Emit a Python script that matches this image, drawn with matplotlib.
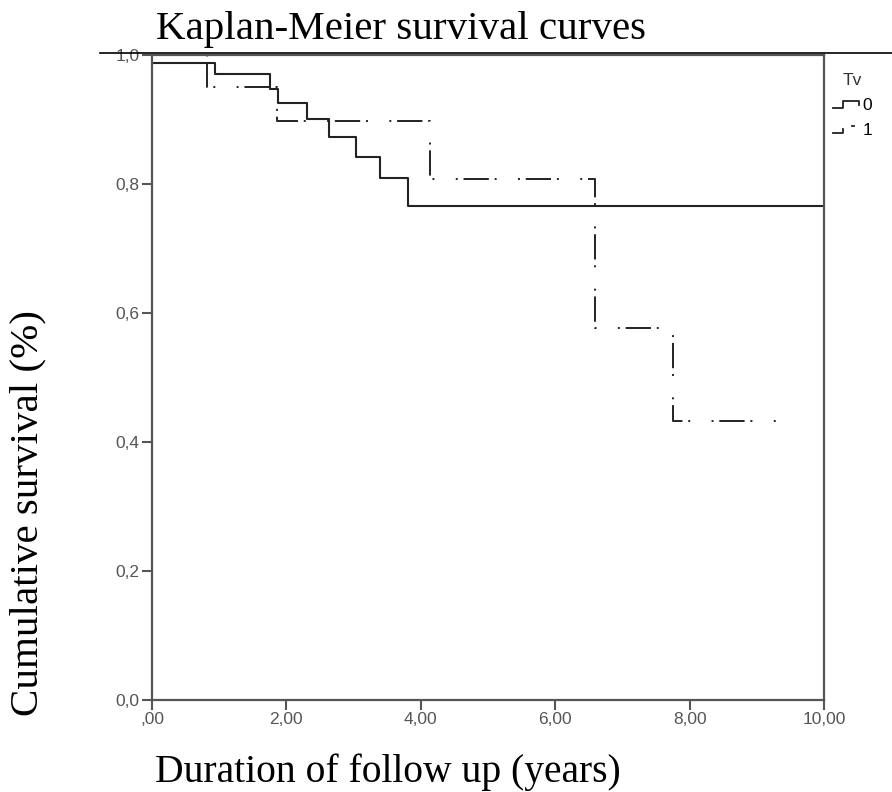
import matplotlib
matplotlib.use('Agg')
import matplotlib.pyplot as plt
from matplotlib.lines import Line2D
from matplotlib.legend_handler import HandlerBase

# Kaplan-Meier steps (time in years, survival fraction)
t0 = [0.0, 0.94, 1.76, 1.88, 2.30, 2.64, 3.04, 3.39, 3.81, 10.0]
s0 = [0.988, 0.970, 0.948, 0.925, 0.901, 0.873, 0.842, 0.809, 0.766, 0.766]

t1 = [0.0, 0.82, 1.86, 4.14, 6.59, 7.75, 9.32]
s1 = [1.0, 0.950, 0.898, 0.808, 0.577, 0.432, 0.432]

group_names = ['0', '1']
xticks = [0, 2, 4, 6, 8, 10]
xlabels = [',00', '2,00', '4,00', '6,00', '8,00', '10,00']
yticks = [0.0, 0.2, 0.4, 0.6, 0.8, 1.0]
ylabels = ['0,0', '0,2', '0,4', '0,6', '0,8', '1,0']

dashdot = (0, (13, 3, 1, 11, 1, 3))


class StepHandler(HandlerBase):
    # little step icon like the SPSS legend
    def __init__(self, closed):
        super().__init__()
        self.closed = closed

    def create_artists(self, legend, orig, xd, yd, w, h, fontsize, trans):
        lo, hi = -yd + 0.15 * h, -yd + 0.75 * h
        if self.closed:
            xs = [-xd, -xd + 0.4 * w, -xd + 0.4 * w, -xd + w, -xd + w]
            ys = [lo, lo, hi, hi, 0.5 * (lo + hi)]
        else:
            xs = [-xd, -xd + 0.4 * w, -xd + 0.4 * w]
            ys = [lo, lo, 0.55 * (lo + hi)]
        ln = Line2D(xs, ys, color=orig.get_color(), lw=1.3, transform=trans)
        arts = [ln]
        if not self.closed:
            dot = Line2D([-xd + 0.75 * w, -xd + 0.8 * w], [hi, hi],
                         color=orig.get_color(), lw=1.3, transform=trans)
            arts.append(dot)
        return arts


fig = plt.figure(figsize=(8.92, 7.92), dpi=100)
ax = fig.add_axes([152/892, 1 - 700/792, (824-152)/892, (700-55)/792])

l0, = ax.step(t0, s0, where='post', color='#222222', lw=1.5,
              label=group_names[0])
l1, = ax.step(t1, s1, where='post', color='#222222', lw=1.4,
              linestyle=dashdot, label=group_names[1])

ax.set_xlim(0, 10)
ax.set_ylim(0, 1.0)
ax.set_xticks(xticks)
ax.set_xticklabels(xlabels)
ax.set_yticks(yticks)
ax.set_yticklabels(ylabels)
ax.tick_params(direction='out', length=7.5, width=1.5, colors='#555555',
               labelsize=12.5, pad=1.5)
for lbl in ax.get_xticklabels() + ax.get_yticklabels():
    lbl.set_fontfamily('Liberation Sans')
for sp in ax.spines.values():
    sp.set_color('#555555')
    sp.set_linewidth(1.6)

leg = ax.legend(handles=[l0, l1], title='Tv', loc='upper left',
                bbox_to_anchor=(1.0, 0.985), frameon=False,
                handler_map={l0: StepHandler(True), l1: StepHandler(False)},
                handlelength=1.5, handletextpad=0.2, labelspacing=0.55,
                prop={'family': 'Liberation Sans', 'size': 12.5},
                borderaxespad=0.1)
leg.get_title().set_fontfamily('Liberation Sans')
leg.get_title().set_fontsize(12.5)
leg.get_title().set_color('#333333')
leg._legend_box.align = 'left'
leg.get_title().set_position((10, 0))

# rule under the title
fig.add_artist(Line2D([100/892, 1.0], [1 - 52.5/792, 1 - 52.5/792],
                      color='black', lw=1.2))

serif = 'Liberation Serif'
fig.text(156/892, 1 - 30/792, 'Kaplan-Meier survival curves', fontsize=29.5,
         family=serif, va='center', ha='left')
fig.text(155/892, 1 - 772/792, 'Duration of follow up (years)', fontsize=28.5,
         family=serif, va='center', ha='left')
fig.text(28/892, 1 - 513/792, 'Cumulative survival (%)', fontsize=29.5,
         family=serif, va='center', ha='center', rotation=90)

fig.savefig('out.png', dpi=100)
